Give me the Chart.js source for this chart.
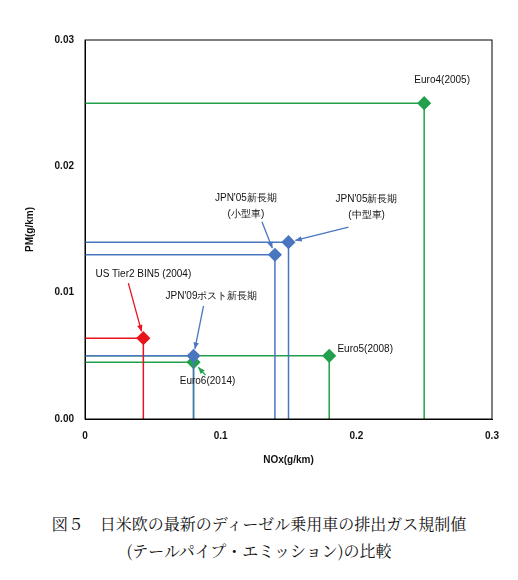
<!DOCTYPE html>
<html>
<head>
<meta charset="utf-8">
<script src="https://cdn.jsdelivr.net/npm/chart.js@4"></script>
<style>
body{margin:0;background:#fff;width:518px;height:580px;overflow:hidden}
#wrap{width:518px;height:470px;position:relative}
.cap{font-family:"Noto Serif CJK JP","Noto Sans CJK JP",serif;font-size:16px;color:#111;text-align:center;line-height:27px;margin-top:40px}
</style>
</head>
<body>
<div id="wrap"><canvas id="c"></canvas></div>
<div class="cap">図５　日米欧の最新のディーゼル乗用車の排出ガス規制値<br>(テールパイプ・エミッション)の比較</div>
<script>
var names = ['Euro4(2005)','JPN\'05新長期|(小型車)','JPN\'05新長期|(中型車)','US Tier2 BIN5 (2004)','JPN\'09ポスト新長期','Euro5(2008)','Euro6(2014)'];
var nox = [0.25, 0.14, 0.15, 0.043, 0.08, 0.18, 0.08];
var pm = [0.025, 0.013, 0.014, 0.0064, 0.005, 0.005, 0.0045];
var colors = ['#22a04b','#4a76c0','#4a76c0','#e8141c','#4a76c0','#22a04b','#22a04b'];
var xTicks = [0, 0.1, 0.2, 0.3];
var yTicks = [0, 0.01, 0.02, 0.03];
// label placement: [dx, dy] from point in px, arrow start [dx, dy] or null
var labelPos = [[18,-23,null],[-29,-57,[-13,-33]],[78,-43,[60,-15]],[0,-64,[-15,-55]],[18,-60,[10,-50]],[36,-7,null],[14,19,[12,13]]];

var datasets = names.map(function(n,i){
	return {
		label: n,
		data: [{x:0,y:pm[i]},{x:nox[i],y:pm[i]},{x:nox[i],y:0}],
		showLine: true,
		borderColor: colors[i],
		backgroundColor: colors[i],
		borderWidth: 1.5,
		pointStyle: 'rectRot',
		pointRadius: [0,6,0],
		pointHoverRadius: [0,6,0]
	};
});

var labelPlugin = {
	id: 'labels',
	afterDatasetsDraw: function(chart){
		var c = chart.ctx, xs = chart.scales.x, ys = chart.scales.y;
		c.save();
		c.font = '10px "Liberation Sans", Arial';
		c.textAlign = 'center';
		c.textBaseline = 'middle';
		names.forEach(function(n,i){
			var px = xs.getPixelForValue(nox[i]), py = ys.getPixelForValue(pm[i]);
			var lp = labelPos[i];
			var lines = n.split('|');
			c.fillStyle = '#111';
			lines.forEach(function(t,k){ c.fillText(t, px+lp[0], py+lp[1]+k*16); });
			if(lp[2]){
				var sx = px+lp[2][0], sy = py+lp[2][1];
				var ang = Math.atan2(py-sy, px-sx);
				var ex = px-Math.cos(ang)*7, ey = py-Math.sin(ang)*7;
				c.strokeStyle = colors[i]; c.fillStyle = colors[i]; c.lineWidth = 1.3;
				c.beginPath(); c.moveTo(sx,sy); c.lineTo(ex,ey); c.stroke();
				c.beginPath(); c.moveTo(ex,ey);
				c.lineTo(ex-Math.cos(ang-0.4)*7, ey-Math.sin(ang-0.4)*7);
				c.lineTo(ex-Math.cos(ang+0.4)*7, ey-Math.sin(ang+0.4)*7);
				c.closePath(); c.fill();
			}
		});
		c.strokeStyle = '#000'; c.lineWidth = 1;
		var a = chart.chartArea;
		c.strokeRect(a.left, a.top, a.right-a.left, a.bottom-a.top);
		c.restore();
	}
};

new Chart(document.getElementById('c'), {
	type: 'scatter',
	data: { datasets: datasets },
	options: {
		responsive: true,
		maintainAspectRatio: false,
		animation: false,
		layout: { padding: { top: 40, right: 26, left: 20 } },
		plugins: { legend: { display: false }, tooltip: { enabled: false } },
		scales: {
			x: {
				min: 0, max: 0.3,
				afterFit: function(s){ s.height = 51; },
				afterBuildTicks: function(s){ s.ticks = xTicks.map(function(v){ return {value:v}; }); },
				grid: { display: false },
				border: { color: '#000' },
				ticks: { color: '#111', font: { size: 10, weight: 'bold' }, callback: function(v){ return v === 0 ? '0' : String(v); } },
				title: { display: true, text: 'NOx(g/km)', color: '#111', font: { size: 10, weight: 'bold' } }
			},
			y: {
				min: 0, max: 0.03,
				afterFit: function(s){ s.width = 65; },
				afterBuildTicks: function(s){ s.ticks = yTicks.map(function(v){ return {value:v}; }); },
				grid: { display: false },
				border: { color: '#000' },
				ticks: { color: '#111', font: { size: 10, weight: 'bold' }, callback: function(v){ return Number(v).toFixed(2); } },
				title: { display: true, text: 'PM(g/km)', color: '#111', font: { size: 10, weight: 'bold' } }
			}
		}
	},
	plugins: [labelPlugin]
});
</script>
</body>
</html>
